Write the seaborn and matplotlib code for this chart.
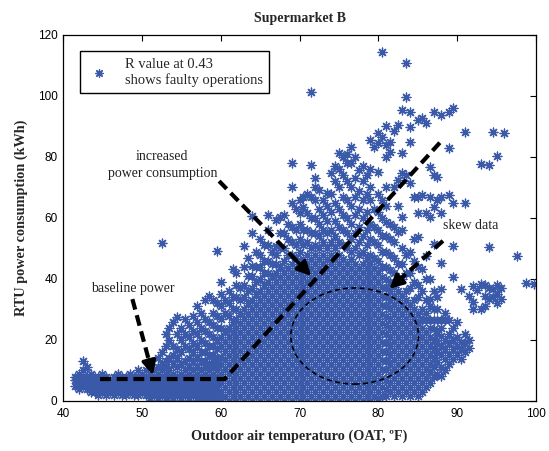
import matplotlib
matplotlib.use("Agg")
import matplotlib.pyplot as plt
from matplotlib.patches import Ellipse
import seaborn as sns
import pandas as pd

# OAT (degF) columns and the RTU kWh readings seen in each column
cool_oat = [41.5, 42, 42.5, 43, 43.5, 44, 44.5, 45, 45.5, 46, 46.5, 47, 47.5, 48, 48.5,
            49, 49.5, 50, 50.5, 51, 51.5, 52, 52.5, 53, 53.5, 54, 54.5, 55, 55.5, 56,
            56.5, 57, 57.5, 58, 58.5, 59, 59.5]
cool_kwh = [
    [5, 7, 8], [4, 6, 7, 9], [5, 7, 8, 10, 13], [4, 6, 8, 11], [3, 5, 7, 9],
    [3, 5, 6, 8], [2, 4, 6, 8], [3, 5, 7, 9], [2, 4, 6, 8], [3, 5, 7],
    [2, 4, 6, 8], [3, 5, 7, 9], [2, 4, 6, 8], [2, 4, 6, 8], [3, 5, 7, 9],
    [2, 4, 6, 8], [2, 4, 6, 8, 10], [3, 5, 7, 9], [2, 4, 6, 8, 10], [1, 3, 5, 7, 9],
    [2, 4, 6, 8, 10], [1, 3, 5, 7, 9, 11, 14], [2, 4, 6, 8, 10, 12, 16, 51.9],
    [1, 3, 5, 7, 9, 11, 13, 18, 22], [2, 4, 6, 8, 10, 14, 20, 24],
    [1, 3, 5, 7, 9, 12, 15, 18, 26], [2, 4, 6, 8, 11, 14, 17, 22, 27.5],
    [1, 3, 5, 7, 9, 12, 16, 20, 24], [2, 4, 6, 8, 10, 13, 18, 22, 27],
    [1, 3, 5, 7, 9, 11, 14, 17, 21, 25], [2, 4, 6, 8, 10, 13, 16, 19, 23, 28],
    [1, 3, 5, 7, 9, 11, 14, 18, 22, 26, 31.2], [0, 2, 4, 6, 8, 10, 13, 16, 20, 24, 29],
    [1, 3, 5, 7, 9, 11, 13, 16, 19, 23, 27, 33], [0, 2, 4, 6, 8, 10, 12, 15, 18, 22, 26, 34.5],
    [1, 3, 5, 7, 9, 11, 13, 15, 18, 21, 25, 29, 33],
    [0, 2, 4, 6, 8, 10, 12, 14, 17, 20, 24, 28, 32, 49.3],
]

mild_oat = [60, 60.5, 61, 61.5, 62, 62.5, 63, 63.5, 64, 64.5, 65, 65.5, 66, 66.5, 67,
            67.5, 68, 68.5, 69, 69.5, 70, 70.5, 71, 71.5, 72]
mild_kwh = [
    [0.5, 3, 6, 9, 12, 14.5, 18, 21, 24, 27, 31, 35, 38.9],
    [1.5, 4.5, 7.5, 10.5, 13.5, 16.5, 19.5, 23, 29, 33],
    [0, 3, 6, 9, 12, 15, 18, 21, 24, 28, 32, 36],
    [1.5, 4.5, 7.5, 10.5, 13.5, 16.5, 19.5, 22.5, 26, 30, 34, 43.3],
    [0, 3, 6, 9, 12, 15, 18, 21, 24, 27, 30, 34, 38, 42],
    [1.5, 4.5, 7.5, 10.5, 13.5, 16.5, 19.5, 22.5, 25.5, 29, 33, 37],
    [0, 3, 6, 9, 12, 15, 18, 21, 24, 27, 30, 34, 38, 44, 50.9],
    [1.5, 4.5, 7.5, 10.5, 13.5, 16.5, 19.5, 22.5, 25.5, 28.5, 32, 36, 41, 47],
    [0, 3, 6, 9, 12, 15, 18, 21, 24, 27, 30, 33, 37, 41, 44.4, 55.2, 60.5],
    [1.5, 4.5, 7.5, 10.5, 13.5, 16.5, 19.5, 22.5, 25.5, 28.5, 31.5, 35, 39, 44, 49],
    [0, 3, 6, 9, 12, 15, 18, 21, 24, 27, 30, 33, 36, 40, 44, 48, 53.1],
    [1.5, 4.5, 7.5, 10.5, 13.5, 16.5, 19.5, 22.5, 25.5, 28.5, 31.5, 34.5, 38, 42, 46, 51],
    [0, 3, 6, 9, 12, 15, 18, 21, 24, 27, 30, 33, 36, 39, 42, 46, 51, 56, 61],
    [1.5, 4.5, 7.5, 10.5, 13.5, 16.5, 19.5, 22.5, 25.5, 28.5, 31.5, 34.5, 37.5, 41, 45, 49],
    [0, 3, 6, 9, 12, 15, 18, 21, 24, 27, 30, 33, 36, 39, 42, 45, 48, 50.9, 59.4],
    [1.5, 4.5, 7.5, 10.5, 13.5, 16.5, 19.5, 22.5, 25.5, 28.5, 31.5, 34.5, 37.5, 40.5, 44,
     50, 55, 60.3],
    [0, 3, 6, 9, 12, 15, 18, 21, 24, 27, 30, 33, 36, 39, 42, 46, 50, 55, 61],
    [1.5, 4.5, 7.5, 10.5, 13.5, 16.5, 19.5, 22.5, 25.5, 28.5, 31.5, 34.5, 37.5, 40.5, 43.5,
     48, 53, 58],
    [0, 3, 6, 9, 12, 15, 18, 21, 24, 27, 30, 33, 36, 39, 42, 45, 48, 52, 57, 65, 70, 78],
    [1.5, 4.5, 7.5, 10.5, 13.5, 16.5, 19.5, 22.5, 25.5, 28.5, 31.5, 34.5, 37.5, 40.5, 43.5,
     47, 51, 56, 63],
    [0, 3, 6, 9, 12, 15, 18, 21, 24, 27, 30, 33, 36, 39, 42, 45, 49, 53, 58, 61.6, 66],
    [1.5, 4.5, 7.5, 10.5, 13.5, 16.5, 19.5, 22.5, 25.5, 28.5, 31.5, 34.5, 37.5, 40.5, 43.5,
     46.5, 51, 56, 63.6, 67],
    [0, 3, 6, 9, 12, 15, 18, 21, 24, 27, 30, 33, 36, 39, 42, 45, 48, 52, 56, 61.6, 68],
    [1.5, 4.5, 7.5, 10.5, 13.5, 16.5, 19.5, 22.5, 25.5, 28.5, 31.5, 34.5, 37.5, 40.5, 43.5,
     46.5, 50, 55, 60, 67, 77.4, 101.4],
    [0, 3, 6, 9, 12, 15, 18, 21, 24, 27, 30, 33, 36, 39, 42, 45, 48, 51, 55, 60, 66, 70, 73],
]

warm_oat = [72.5, 73, 73.5, 74, 74.5, 75, 75.5, 76, 76.5, 77, 77.5, 78, 78.5, 79, 79.5,
            80, 80.5, 81, 81.5, 82, 82.5, 83, 83.5, 84, 84.5, 85]
warm_kwh = [
    [1.5, 4.5, 7.5, 10.5, 13.5, 16.5, 19.5, 22.5, 25.5, 28.5, 31.5, 34.5, 37.5, 40.5, 43.5,
     46.5, 50, 54, 58, 63, 69.2],
    [0, 3, 6, 9, 12, 15, 18, 21, 24, 27, 30, 33, 36, 39, 42, 45, 48, 52, 56, 61, 66],
    [1.5, 4.5, 7.5, 10.5, 13.5, 16.5, 19.5, 22.5, 25.5, 28.5, 31.5, 34.5, 37.5, 40.5, 43.5,
     46.5, 50, 55, 59, 64, 68.2],
    [0, 3, 6, 9, 12, 15, 18, 21, 24, 27, 30, 33, 36, 39, 42, 45, 48, 52, 56, 62, 68, 74.7],
    [1.5, 4.5, 7.5, 10.5, 13.5, 16.5, 19.5, 22.5, 25.5, 28.5, 31.5, 34.5, 37.5, 40.5, 43.5,
     46.5, 50, 54, 59, 65, 72, 77],
    [0, 3, 6, 9, 12, 15, 18, 21, 24, 27, 30, 33, 36, 39, 42, 45, 48, 52, 57, 63, 70, 76, 81.2],
    [1.5, 4.5, 7.5, 10.5, 13.5, 16.5, 19.5, 22.5, 25.5, 28.5, 31.5, 34.5, 37.5, 40.5, 43.5,
     46.5, 51, 56, 61, 67, 74, 80],
    [0, 3, 6, 9, 12, 15, 18, 21, 24, 27, 30, 33, 36, 39, 42, 45, 50, 55, 60, 66, 72, 78, 81],
    [1.5, 4.5, 7.5, 10.5, 13.5, 16.5, 19.5, 22.5, 25.5, 28.5, 31.5, 34.5, 37.5, 40.5, 43.5,
     46.5, 49, 53, 58, 64, 70, 78, 83.4],
    [0, 3, 6, 9, 12, 15, 18, 21, 24, 27, 30, 33, 36, 39, 42, 45, 50, 55, 61, 67, 73, 80],
    [1.5, 4.5, 7.5, 10.5, 13.5, 16.5, 19.5, 22.5, 25.5, 28.5, 31.5, 34.5, 37.5, 40.5, 43.5,
     48, 52, 57, 63, 69, 75.8],
    [0, 3, 6, 9, 12, 15, 18, 21, 24, 27, 30, 33, 36, 39, 42, 45, 49, 54, 60, 66, 72, 76.9],
    [1.5, 4.5, 7.5, 10.5, 13.5, 16.5, 19.5, 22.5, 25.5, 28.5, 31.5, 34.5, 37.5, 40.5, 43.5,
     47, 51, 56, 62, 68, 74],
    [0, 3, 6, 9, 12, 15, 18, 21, 24, 27, 30, 33, 36, 39, 42, 45, 48, 53, 58, 66, 70, 76, 85.6],
    [1.5, 4.5, 7.5, 10.5, 13.5, 16.5, 19.5, 22.5, 25.5, 28.5, 31.5, 34.5, 37.5, 40.5, 43.5,
     47, 52, 57, 63, 83.3],
    [0.5, 3, 6, 9, 12, 15, 18, 21, 24, 27, 30, 33, 36, 39, 42, 46, 51, 56, 62, 68, 75,
     84.5, 88],
    [1.5, 4.5, 7.5, 10.5, 13.5, 16.5, 19.5, 22.5, 25.5, 28.5, 31.5, 34.5, 37.5, 40.5, 44,
     49, 54, 60, 66, 86.7, 114.5],
    [1.5, 4, 7, 10, 13, 16, 19, 22, 25, 28, 31, 34, 37, 40, 44, 49, 54, 58.7, 64, 70, 80,
     83.9, 90],
    [3, 6, 9, 12, 15, 18, 21, 24, 27, 30, 33, 36, 39, 43, 48, 53, 58, 81.6, 84.9],
    [1.5, 4.5, 7.5, 10.5, 13.5, 16.5, 19.5, 22.5, 25.5, 28.5, 31.5, 34.5, 37.5, 42, 47, 52,
     57, 70.2, 88.5],
    [3, 6, 9, 12, 15, 18, 21, 24, 27, 30, 33, 36, 40, 45, 55.3, 63.8, 72.5, 90.5],
    [1.5, 4.5, 7.5, 10.5, 13.5, 16.5, 19.5, 22.5, 25.5, 28.5, 31.5, 34.5, 40, 45, 50, 56,
     60.3, 74.7, 81.3, 95.4],
    [3, 6, 9, 12, 15, 18, 21, 24, 27, 30, 33, 36, 42, 48, 74.1, 99.8, 110.7],
    [1.5, 4.5, 7.5, 10.5, 13.5, 16.5, 19.5, 22.5, 25.5, 28.5, 31.5, 37, 42, 48.7, 71.5, 85,
     89.8, 94.8],
    [3, 6, 9, 12, 15, 18, 21, 24, 27, 30, 33, 39, 46, 53, 67],
    [1.5, 4.5, 7.5, 10.5, 13.5, 16.5, 19.5, 22.5, 25.5, 28.5, 34, 38, 44, 53.8, 61.6, 67, 92],
]

hot_oat = [85.5, 86, 86.5, 87, 87.5, 88, 88.5, 89, 89.5, 90, 90.5, 91, 91.5, 92, 92.5,
           93, 93.5, 94, 94.5, 95, 95.5, 96, 97.6, 98.7, 99.7]
hot_kwh = [
    [3, 6, 9, 12, 15, 18, 21, 24, 26.5, 30, 36, 43.3, 67.5, 92.7],
    [4.5, 7.5, 10.5, 13.5, 16.5, 19.5, 22.5, 26.5, 29, 33, 40, 47.6, 61.6, 91.1],
    [6, 9.4, 12, 15, 18, 21, 24, 26.5, 31, 33.4, 39.9, 60.3, 66.9, 76.7],
    [8, 11, 14, 17, 20, 23.6, 26.5, 30, 36, 51.5, 63.6, 74.1, 94.8],
    [9, 12.7, 16, 19, 22, 26.5, 30, 34, 66, 73.4],
    [8.3, 11, 15, 18, 21.4, 24, 26.5, 36.7, 45.4, 61.6, 66.9, 93.8],
    [10, 13.8, 17, 20, 26.5, 29],
    [12, 15, 19, 22, 26.5, 67.5, 83, 94.8],
    [13.8, 17, 20, 24, 40.5, 50.9, 64.9, 96],
    [15, 18, 21, 26],
    [13.8, 17, 19.2, 36.7],
    [16, 19, 22, 64.9, 88.2],
    [17.5, 20, 34.5],
    [30, 32.3, 37.8],
    [36.5],
    [30.2, 38.4, 77.7],
    [31, 34.5, 38],
    [33.4, 37, 50.4, 77.4],
    [34, 36.7, 88.2],
    [32, 35, 38, 80.2],
    [33.5, 37],
    [87.8],
    [47.6],
    [38.8],
    [38.5],
]

rows = []
for oats, kwhs in [(cool_oat, cool_kwh), (mild_oat, mild_kwh),
                   (warm_oat, warm_kwh), (hot_oat, hot_kwh)]:
    for t, col in zip(oats, kwhs):
        for v in col:
            rows.append((t, v))
df = pd.DataFrame(rows, columns=["oat", "kwh"])

sns.set_theme(style="white")
serif = ["Liberation Serif", "DejaVu Serif"]
plt.rcParams["font.family"] = ["Liberation Sans", "DejaVu Sans"]

fig = plt.figure(figsize=(5.49, 4.51), dpi=100)
ax = fig.add_axes([0.1148, 0.1109, 0.8615, 0.8115])

blue = "#3a59a8"
sns.scatterplot(data=df, x="oat", y="kwh", ax=ax, marker=(8, 2, 0), s=40,
                color=blue, linewidth=0.95,
                label="R value at 0.43\nshows faulty operations")

ax.set_xlim(40, 100)
ax.set_ylim(0, 120)
ax.set_xticks(range(40, 101, 10))
ax.set_yticks(range(0, 121, 20))
ax.tick_params(direction="in", top=True, right=True, length=4, width=0.8,
               labelsize=8.5, colors="black")
ax.tick_params(axis="x", pad=5)
ax.tick_params(axis="y", pad=4)
for sp in ax.spines.values():
    sp.set_color("black")
    sp.set_linewidth(0.9)

ax.set_title("Supermarket B", fontfamily=serif, fontweight="bold", fontsize=10, pad=9)
ax.set_xlabel("Outdoor air temperaturo (OAT, ºF)", fontfamily=serif,
              fontweight="bold", fontsize=10.3, labelpad=7)
ax.set_ylabel("RTU power consumption (kWh)", fontfamily=serif,
              fontweight="bold", fontsize=10.3, labelpad=7)

# dashed annotation lines
dash = dict(color="black", lw=3.0, linestyle=(0, (2.6, 1.4)), solid_capstyle="butt",
            dash_capstyle="butt", zorder=5)
ax.plot([44.7, 60.5, 88.3], [7.2, 7.2, 86.1], **dash)


def dashed_arrow(x0, y0, x1, y1):
    ax.plot([x0, x0 + 0.85 * (x1 - x0)], [y0, y0 + 0.85 * (y1 - y0)], **dash)
    ax.annotate("", xy=(x1, y1), xytext=(x0 + 0.8 * (x1 - x0), y0 + 0.8 * (y1 - y0)),
                arrowprops=dict(arrowstyle="-|>,head_length=0.7,head_width=0.35",
                                color="black", lw=2.5, shrinkA=0, shrinkB=0),
                zorder=6)


dashed_arrow(59.8, 72.1, 71.5, 41.0)
dashed_arrow(48.8, 33.4, 51.4, 8.5)
dashed_arrow(88.2, 52.5, 81.4, 36.8)

ax.add_patch(Ellipse((77.0, 21.3), 16.2, 31.5, fill=False, edgecolor="black",
                     lw=1.2, linestyle=(0, (3, 2)), zorder=5))

txt = dict(fontfamily=serif, fontsize=10, color="#222222", ha="center", va="center",
           zorder=7)
ax.text(52.6, 77.4, "increased\npower consumption", linespacing=1.35, **txt)
ax.text(48.9, 37.0, "baseline power", **txt)
ax.text(91.7, 57.4, "skew data", **txt)

leg = ax.legend(loc="upper left", bbox_to_anchor=(0.036, 0.956), borderaxespad=0,
                frameon=True, fancybox=False, edgecolor="black", framealpha=1,
                prop={"family": serif, "size": 10.5}, handletextpad=0.9,
                handlelength=1.7, borderpad=0.45, markerscale=0.85)
leg.get_frame().set_linewidth(1.0)

fig.savefig("out.png", dpi=100)
